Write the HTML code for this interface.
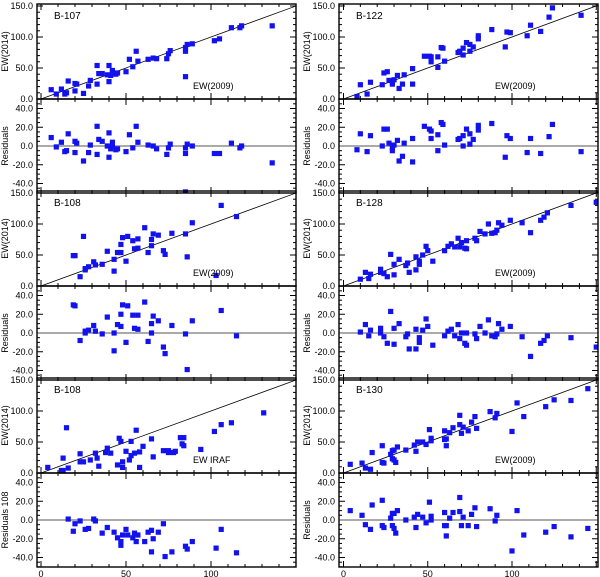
<!DOCTYPE html>
<html><head><meta charset="utf-8"><style>
html,body{margin:0;padding:0;background:#fff;}
svg{display:block;font-family:"Liberation Sans",sans-serif;}
</style></head><body>
<svg id="chart" width="600" height="577" viewBox="0 0 600 577"></svg>
<script>
// ---- data ----
const b107X=[6,9,12,14,15,16,20,20,21,25,28,29,33,33,34,36,39,40,40,41,42,42,44,45,50,52,54,56,57,63,66,68,74,75,76,85,85,85,86,89,102,105,112,117,118,136];
const b107Y=[15,8,16,8,10,29,25,13,24,9,21,30,54,24,41,41,39,54,28,38,46,42,40,42,44,64,52,77,61,64,66,65,65,73,78,36,77,83,88,89,94,97,115,115,118,118];
const b122X=[8,10,14,16,23,24,26,27,29,29,30,32,33,35,36,41,41,48,51,52,52,56,56,58,59,60,68,69,71,71,73,75,75,77,80,80,88,96,97,99,109,111,117,122,124,141];
const b122Y=[4,23,8,27,23,42,44,30,27,24,31,38,17,24,39,24,49,69,69,60,68,68,51,83,82,61,75,77,71,82,91,77,88,84,97,102,112,84,108,107,102,119,109,132,147,135];
const b108X=[19,20,23,25,26,26,28,31,32,36,39,43,43,45,47,47,48,50,51,54,55,57,57,61,63,65,65,66,69,72,73,77,85,86,89,103,106,115];
const b108Y=[49,49,15,80,26,28,31,39,34,35,56,43,24,54,67,54,78,40,80,73,60,76,61,94,54,65,75,84,82,57,51,85,84,47,102,17,130,112];
const b128X=[10,13,15,16,22,22,24,26,28,30,30,33,37,38,39,43,43,45,45,47,49,50,53,60,62,64,66,68,69,70,72,73,73,78,79,81,84,86,88,90,91,92,94,99,106,111,117,119,121,135,150];
const b128Y=[11,22,12,19,22,27,20,15,51,18,35,43,33,37,22,47,26,35,40,50,64,57,40,57,64,68,63,77,63,70,61,73,60,77,73,88,84,100,85,86,90,102,98,106,102,86,106,111,118,130,135];
const iraf108X=[4,12,13,13,15,16,23,23,25,29,32,33,34,38,39,41,45,46,47,48,48,50,52,53,53,55,56,58,58,60,65,66,72,75,75,78,79,82,83,84,84,94,102,106,112,131];
const iraf108Y=[9,4,4,24,73,8,31,18,18,21,32,24,11,33,40,32,13,56,51,18,9,35,21,51,28,32,69,9,34,43,55,26,36,33,36,33,35,57,47,57,44,38,67,78,81,97];
const resid108X=[16,19,20,23,26,28,31,32,36,39,43,45,47,47,48,50,51,54,55,56,57,61,63,65,65,66,69,72,73,77,85,86,89,103,106,115];
const resid108Y=[1,-12,-4,-1,-10,-9,1,-1,-14,-8,-13,-19,-23,-27,-16,-10,-16,-19,-14,-23,-16,-23,-13,-11,-34,-20,-13,-4,-39,-34,-28,-31,-23,-30,-10,-35];
const b130X=[4,11,13,16,17,23,23,24,28,29,29,30,30,31,32,37,42,43,44,47,49,51,52,52,60,60,61,61,63,65,69,69,70,71,74,76,78,79,87,90,91,100,103,107,120,125,135,145];
const b130Y=[14,16,8,6,33,44,17,16,30,36,23,37,21,17,42,37,45,35,50,50,46,70,56,52,68,54,44,55,65,73,93,78,64,74,68,82,91,72,99,89,96,67,113,91,107,118,117,136];
const mainTicks=[0,50,100,150];
const residTicks=[40,20,0,-20,-40];
const xTicks=[0,50,100];

// ---- layout ----
const NS='http://www.w3.org/2000/svg';
const svg=document.getElementById('chart');
const cols=[{x0:41,k:1.70,L:37,R:296,lab:33,ttl:8},{x0:343.5,k:1.685,L:339,R:598,lab:335,ttl:310}];
const rowsB=[99,286,473];
function mk(tag,attrs,parent){const e=document.createElementNS(NS,tag);for(const k in attrs)e.setAttribute(k,attrs[k]);(parent||svg).appendChild(e);return e;}
function txt(s,x,y,attrs,parent){const e=mk('text',Object.assign({x:x,y:y,'font-size':9,fill:'#000'},attrs||{}),parent);e.textContent=s;return e;}

function panel(col,row,type,xs,ys,name,title,xlabel,ylabelText){
  const c=cols[col],B=rowsB[row];
  let top,bot,sy,vy;
  if(type==='main'){top=B-95;bot=B;sy=v=>B-v*0.62;}
  else{top=B;bot=B+94;sy=v=>B+47-v*0.9375;}
  const sx=v=>c.x0+v*c.k;
  const g=mk('g',{});
  
  
  const cid='clip-'+name;
  const cp=mk('clipPath',{id:cid},g);mk('rect',{x:c.L,y:top,width:c.R-c.L,height:bot-top},cp);
  // ticks
  for(let v=0;v<=150;v+=10){const x=sx(v);if(x>c.R+0.5)continue;const len=(v%50===0)?6:3;
    mk('line',{x1:x,y1:bot,x2:x,y2:bot-len,stroke:'#000','stroke-width':1},g);
    mk('line',{x1:x,y1:top,x2:x,y2:top+len,stroke:'#000','stroke-width':1},g);}
  if(type==='main'){for(let v=0;v<=150;v+=10){const y=sy(v);const len=(v%50===0)?6:3;
      mk('line',{x1:c.L,y1:y,x2:c.L+len,y2:y,stroke:'#000'},g);mk('line',{x1:c.R,y1:y,x2:c.R-len,y2:y,stroke:'#000'},g);}
    mainTicks.forEach(v=>{const t=txt(v.toFixed(1),c.lab,sy(v)+3,{'text-anchor':'end'},g);});
    mk('line',{x1:sx(-5),y1:sy(-5),x2:sx(160),y2:sy(160),stroke:'#000','stroke-width':0.8,'clip-path':'url(#'+cid+')'},g);
  } else {for(let v=-50;v<=50;v+=5){const y=sy(v);const len=(v%20===0)?6:3;
      mk('line',{x1:c.L,y1:y,x2:c.L+len,y2:y,stroke:'#000'},g);mk('line',{x1:c.R,y1:y,x2:c.R-len,y2:y,stroke:'#000'},g);}
    residTicks.forEach(v=>{const t=txt(v.toFixed(1),c.lab,sy(v)+3,{'text-anchor':'end'},g);});
    const zl=mk('line',{x1:c.L,y1:sy(0),x2:c.R,y2:sy(0),stroke:'#aaa','stroke-width':2},g);
    
  }
  // points
  const pg=mk('g',{'clip-path':'url(#'+cid+')'},g);
  for(let i=0;i<xs.length;i++){
    const r=mk('rect',{x:sx(xs[i])-2.6,y:sy(ys[i])-2.6,width:5.2,height:5.2,fill:'#1212ee'},pg);
    
    
  }
  mk('rect',{x:c.L,y:top,width:c.R-c.L,height:bot-top,fill:'none',stroke:'#000','stroke-width':1.4},g);
  const yl=txt(ylabelText,0,0,{'text-anchor':'middle',transform:'translate('+c.ttl+','+((top+bot)/2)+') rotate(-90)'},g);
  
  
  if(title){const t=txt(title,c.L+17,top+15,{'font-size':10},g);}
  if(xlabel){const t=txt(xlabel,c.L+156,bot-10,{'font-size':9},g);}
  if(row===2&&type==='resid'){xTicks.forEach(v=>{const t=txt(String(v),sx(v),bot+10,{'text-anchor':'middle'},g);});}
}
const diff=(xs,ys)=>ys.map((y,i)=>y-xs[i]);
panel(0,0,'main',b107X,b107Y,'b107-main','B-107','EW(2009)','EW(2014)');
panel(0,0,'resid',b107X,diff(b107X,b107Y),'b107-residuals',null,null,'Residuals');
panel(1,0,'main',b122X,b122Y,'b122-main','B-122','EW(2009)','EW(2014)');
panel(1,0,'resid',b122X,diff(b122X,b122Y),'b122-residuals',null,null,'Residuals');
panel(0,1,'main',b108X,b108Y,'b108-main','B-108','EW(2009)','EW(2014)');
panel(0,1,'resid',b108X,diff(b108X,b108Y),'b108-residuals',null,null,'Residuals');
panel(1,1,'main',b128X,b128Y,'b128-main','B-128','EW(2009)','EW(2014)');
panel(1,1,'resid',b128X,diff(b128X,b128Y),'b128-residuals',null,null,'Residuals');
panel(0,2,'main',iraf108X,iraf108Y,'b108-iraf-main','B-108','EW IRAF','EW(2014)');
panel(0,2,'resid',resid108X,resid108Y,'b108-iraf-residuals',null,null,'Residuals 108');
panel(1,2,'main',b130X,b130Y,'b130-main','B-130','EW(2009)','EW(2014)');
panel(1,2,'resid',b130X,diff(b130X,b130Y),'b130-residuals',null,null,'Residuals');
</script>
</body></html>
